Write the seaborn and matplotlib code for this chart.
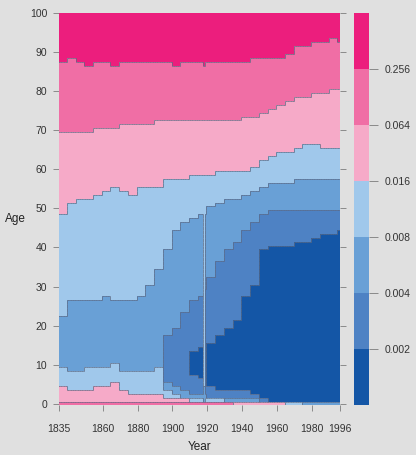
import numpy as np
import matplotlib
matplotlib.use('Agg')
import matplotlib.pyplot as plt
from matplotlib.colors import ListedColormap
from matplotlib.collections import LineCollection
import seaborn as sns

# Lexis surface of death rates in blocks starting at each anchor year
years = np.arange(1835, 1997)
ages = np.arange(0, 101)

anchor_years = [1835, 1840, 1845, 1850, 1855, 1860, 1865, 1870, 1875, 1880, 1885, 1890,
                1895, 1900, 1905, 1910, 1915, 1918, 1919, 1920, 1925, 1930, 1935, 1940,
                1945, 1950, 1955, 1960, 1965, 1970, 1975, 1980, 1985, 1990, 1995]

# per threshold: ages below lo_* and ages from hi_* upward have a rate above the threshold
# (lo 0 / hi 0 means no age is below it)
lo_002 = [0, 0, 0, 0, 0, 0, 0, 0, 0, 0, 0, 0, 0, 0, 0, 8, 7, 0, 0, 5, 4, 4, 4, 4, 3, 2, 1, 1, 1, 1, 1, 1, 1, 1, 1]
hi_002 = [0, 0, 0, 0, 0, 0, 0, 0, 0, 0, 0, 0, 0, 0, 0, 14, 15, 0, 0, 16, 18, 20, 22, 28, 31, 40, 41, 41, 41, 42, 42, 43, 44, 44, 45]
lo_004 = [0, 0, 0, 0, 0, 0, 0, 0, 0, 0, 0, 0, 6, 5, 4, 3, 3, 0, 3, 2, 2, 2, 2, 2, 2, 1, 1, 1, 1, 1, 1, 1, 1, 1, 1]
hi_004 = [0, 0, 0, 0, 0, 0, 0, 0, 0, 0, 0, 0, 18, 20, 24, 27, 28, 0, 30, 33, 37, 40, 42, 45, 47, 49, 50, 50, 50, 50, 50, 50, 50, 50, 50]
lo_008 = [10, 9, 9, 10, 10, 10, 11, 9, 9, 9, 9, 10, 4, 3, 2, 2, 2, 1, 2, 2, 2, 1, 1, 1, 1, 1, 1, 1, 1, 1, 0, 0, 0, 0, 0]
hi_008 = [23, 27, 27, 27, 27, 28, 27, 27, 27, 28, 31, 35, 40, 45, 47, 48, 49, 5, 49, 51, 52, 53, 53, 54, 55, 56, 57, 57, 57, 58, 58, 58, 58, 58, 58]
lo_016 = [5, 4, 4, 4, 5, 5, 6, 4, 3, 3, 3, 3, 2, 2, 2, 1, 1, 1, 1, 1, 1, 1, 1, 1, 1, 1, 1, 1, 0, 0, 0, 0, 0, 0, 0]
hi_016 = [49, 52, 53, 53, 54, 55, 56, 55, 54, 56, 56, 56, 58, 58, 58, 59, 59, 59, 59, 59, 60, 60, 60, 60, 61, 63, 64, 65, 65, 66, 67, 67, 66, 66, 66]
lo_064 = [1, 1, 1, 1, 1, 1, 1, 1, 1, 1, 1, 1, 1, 1, 1, 1, 1, 1, 1, 1, 1, 1, 0, 0, 0, 0, 0, 0, 0, 0, 0, 0, 0, 0, 0]
hi_064 = [70, 70, 70, 70, 71, 71, 71, 72, 72, 72, 72, 73, 73, 73, 73, 73, 73, 73, 73, 73, 73, 73, 73, 74, 74, 75, 76, 77, 78, 79, 79, 80, 80, 81, 81]
lo_256 = [0, 0, 0, 0, 0, 0, 0, 0, 0, 0, 0, 0, 0, 0, 0, 0, 0, 0, 0, 0, 0, 0, 0, 0, 0, 0, 0, 0, 0, 0, 0, 0, 0, 0, 0]
hi_256 = [88, 89, 88, 87, 88, 88, 87, 88, 88, 88, 88, 88, 88, 87, 88, 88, 88, 87, 88, 88, 88, 88, 88, 88, 89, 89, 89, 89, 90, 92, 92, 93, 93, 94, 93]

level_labels = ['0.002', '0.004', '0.008', '0.016', '0.064', '0.256']
colors = ['#1456a6', '#4e82c4', '#69a0d6', '#a0c8eb', '#f6aac8', '#f06ea5', '#ec1e7d']
year_ticks = [1835, 1860, 1880, 1900, 1920, 1940, 1960, 1980, 1996]

# build the class grid (rows = age, cols = year)
idx = np.searchsorted(anchor_years, years, side='right') - 1
cls = np.zeros((len(ages), len(years)), dtype=int)
for lo, hi in [(lo_002, hi_002), (lo_004, hi_004), (lo_008, hi_008),
               (lo_016, hi_016), (lo_064, hi_064), (lo_256, hi_256)]:
    lo_y = np.array(lo)[idx]
    hi_y = np.array(hi)[idx]
    cls += (ages[:, None] < lo_y[None, :]) | (ages[:, None] >= hi_y[None, :])

sns.set_theme(style='white')
plt.rcParams['font.family'] = ['Liberation Sans', 'DejaVu Sans']

bg = '#e0e0e0'
fig = plt.figure(figsize=(4.16, 4.55), dpi=100)
fig.patch.set_facecolor(bg)
ax = fig.add_axes([59 / 416, 50 / 455, 281 / 416, 392 / 455])
cax = fig.add_axes([354 / 416, 50 / 455, 15 / 416, 392 / 455])

sns.heatmap(cls, ax=ax, cbar_ax=cax, cmap=ListedColormap(colors), vmin=-0.5, vmax=6.5,
            xticklabels=False, yticklabels=False)

# outlines between classes
segs = []
for i, j in zip(*np.nonzero(cls[:, 1:] != cls[:, :-1])):
    segs.append([(j + 1, i), (j + 1, i + 1)])
for i, j in zip(*np.nonzero(cls[1:, :] != cls[:-1, :])):
    segs.append([(j, i + 1), (j + 1, i + 1)])
ax.add_collection(LineCollection(segs, colors='#5d6a84', linewidths=0.6, alpha=0.85))

ax.set_xlim(0.5, len(years) - 0.5)
ax.set_ylim(0.2, 100.5)
ax.set_facecolor(bg)
for s in ax.spines.values():
    s.set_visible(False)

ax.set_xticks(np.array(year_ticks) - 1835 + 0.5)
ax.set_xticklabels([str(y) for y in year_ticks])
ax.set_yticks(np.arange(0, 101, 10) + 0.5)
ax.set_yticklabels([str(a) for a in range(0, 101, 10)])
ax.tick_params(axis='both', which='both', bottom=True, left=True, right=True, labelright=False,
               direction='out', length=4.5, width=0.7, color='#8a8a8a',
               labelsize=7.5, labelcolor='#333333')
ax.tick_params(axis='x', pad=9)
ax.tick_params(axis='y', pad=4)
ax.set_xlabel('Year', fontsize=8.5, color='#222222', labelpad=5)
ax.set_ylabel('')
fig.text(5 / 416, 1 - 219 / 455, 'Age', fontsize=8.5, color='#222222', va='center', ha='left')

cbar = ax.collections[0].colorbar
cbar.outline.set_visible(False)
cbar.set_ticks(np.arange(0.5, 6.5, 1.0))
cbar.set_ticklabels(level_labels)
cax.tick_params(length=6.5, width=0.7, color='#8a8a8a', labelsize=7.5, labelcolor='#333333', pad=5)

fig.savefig('out.png', dpi=100, facecolor=bg)
